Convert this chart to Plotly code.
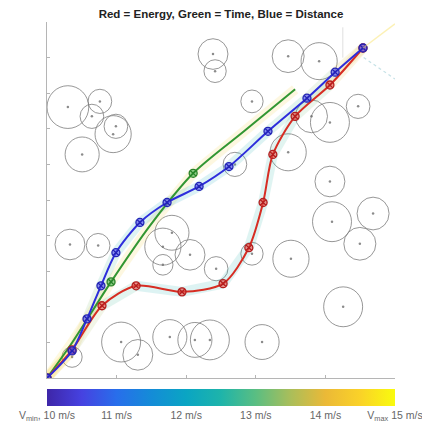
import plotly.graph_objects as go
from plotly.colors import sample_colorscale

# ---------------- data (axis units 0..10) ----------------
circle_x = [4.77, 4.83, 6.93, 7.82, 0.60, 1.52, 1.29, 1.98, 1.90, 1.01, 5.89, 8.94, 7.60, 8.13,
            6.93, 8.13, 5.40, 8.19, 9.37, 8.99, 7.01, 5.89, 4.86, 8.51, 6.18, 0.66, 1.47, 3.59,
            3.33, 4.11, 3.33, 2.13, 2.61, 3.53, 4.25, 4.68, 0.72]
circle_y = [9.10, 8.62, 9.04, 8.90, 7.61, 7.77, 7.35, 7.07, 6.85, 6.28, 7.77, 7.63, 7.35, 7.18,
            6.34, 5.52, 6.00, 4.39, 4.62, 3.77, 3.35, 3.49, 3.07, 2.00, 1.01, 3.75, 3.72, 4.08,
            3.69, 3.46, 3.18, 1.01, 0.65, 1.15, 1.07, 1.07, 0.59]
circle_r = [0.43, 0.32, 0.46, 0.52, 0.60, 0.34, 0.34, 0.34, 0.52, 0.49, 0.32, 0.34, 0.46, 0.56,
            0.52, 0.43, 0.34, 0.56, 0.46, 0.46, 0.52, 0.32, 0.34, 0.56, 0.49, 0.43, 0.34, 0.49,
            0.52, 0.43, 0.29, 0.56, 0.43, 0.49, 0.49, 0.56, 0.29]

blue_x = [0, 0.72, 1.15, 1.55, 1.98, 2.67, 3.45, 4.37, 5.23, 6.35, 7.47, 8.28, 9.08]
blue_y = [0, 0.76, 1.66, 2.59, 3.52, 4.37, 4.93, 5.38, 5.94, 6.93, 7.86, 8.59, 9.27]
blue_speed = [14.6, 14.2, 13.5, 13.0, 12.5, 12.2, 12.0, 12.0, 12.2, 12.5, 13.0, 13.5, 14.2]

red_x = [0, 0.72, 1.58, 2.56, 3.88, 5.06, 5.80, 6.21, 6.49, 7.13, 8.13, 9.08]
red_y = [0, 0.79, 2.03, 2.59, 2.42, 2.65, 3.66, 4.93, 6.28, 7.35, 8.23, 9.27]
red_speed = [14.6, 14.0, 13.0, 12.5, 12.3, 12.4, 12.5, 12.5, 12.6, 12.8, 13.5, 14.5]

green_x = [0, 0.72, 1.84, 2.96, 4.20, 5.66, 7.13]
green_y = [0, 0.99, 2.70, 4.28, 5.75, 6.93, 8.11]
green_speed = [14.6, 14.5, 14.4, 14.4, 14.4, 14.4, 14.4]
green_mark_x = [1.84, 4.20]
green_mark_y = [2.70, 5.75]

speed_ticks = [10, 11, 12, 13, 14, 15]
speed_labels = ["V<sub>min</sub>, 10 m/s", "11 m/s", "12 m/s", "13 m/s", "14 m/s",
                "V<sub>max</sub> 15 m/s"]
title_text = "Red = Energy, Green = Time, Blue = Distance"

parula = [
    [0.0, "rgb(62,38,168)"], [0.1, "rgb(70,66,225)"], [0.2, "rgb(40,110,235)"],
    [0.3, "rgb(20,140,215)"], [0.4, "rgb(10,165,195)"], [0.5, "rgb(30,180,170)"],
    [0.6, "rgb(90,190,130)"], [0.7, "rgb(170,190,90)"], [0.8, "rgb(235,185,55)"],
    [0.9, "rgb(250,210,40)"], [1.0, "rgb(249,251,14)"],
]

FONT = "Arial, Liberation Sans, Helvetica, sans-serif"
fig = go.Figure()

# obstacles
shapes = []
for cx, cy, r in zip(circle_x, circle_y, circle_r):
    shapes.append(dict(type="circle", xref="x", yref="y",
                       x0=cx - r, x1=cx + r, y0=cy - r, y1=cy + r,
                       line=dict(color="rgba(125,125,125,0.8)", width=1),
                       layer="below"))

# faint extra guide lines near goal
shapes.append(dict(type="line", xref="x", yref="y", x0=9.08, y0=9.27, x1=10.0, y1=9.95,
                   line=dict(color="rgba(250,230,120,0.55)", width=1.5)))
shapes.append(dict(type="line", xref="x", yref="y", x0=9.1, y0=9.0, x1=10.0, y1=8.4,
                   line=dict(color="rgba(150,200,210,0.55)", width=1.2, dash="dot")))
shapes.append(dict(type="line", xref="x", yref="y", x0=8.5, y0=9.0, x1=8.5, y1=9.85,
                   line=dict(color="rgba(185,185,185,0.45)", width=1)))

fig.add_trace(go.Scatter(x=circle_x, y=circle_y, mode="markers",
                         marker=dict(size=2.5, color="rgba(110,110,110,0.8)"),
                         hoverinfo="skip", showlegend=False))

# speed glow segments
def glow(xs, ys, sp):
    for i in range(len(xs) - 1):
        v = ((sp[i] + sp[i + 1]) / 2 - 10) / 5
        col = sample_colorscale(parula, [v])[0]
        fig.add_trace(go.Scatter(x=xs[i:i + 2], y=ys[i:i + 2], mode="lines",
                                 line=dict(color=col, width=10), opacity=0.14,
                                 hoverinfo="skip", showlegend=False))

glow(green_x, green_y, green_speed)
glow(red_x, red_y, red_speed)
glow(blue_x, blue_y, blue_speed)

# paths
fig.add_trace(go.Scatter(x=green_x, y=green_y, mode="lines",
                         line=dict(color="rgb(50,150,50)", width=2, shape="spline", smoothing=0.8),
                         showlegend=False))
fig.add_trace(go.Scatter(x=green_mark_x, y=green_mark_y, mode="markers",
                         marker=dict(symbol="circle-x", size=8, color="rgba(80,180,80,0.6)",
                                     line=dict(color="rgb(40,130,40)", width=1.3)),
                         showlegend=False))
fig.add_trace(go.Scatter(x=red_x, y=red_y, mode="lines+markers",
                         line=dict(color="rgb(215,45,35)", width=2, shape="spline", smoothing=0.8),
                         marker=dict(symbol="circle-x", size=8, color="rgba(230,80,70,0.6)",
                                     line=dict(color="rgb(180,30,30)", width=1.3)),
                         showlegend=False))
fig.add_trace(go.Scatter(x=blue_x, y=blue_y, mode="lines+markers",
                         line=dict(color="rgb(45,45,220)", width=2, shape="spline", smoothing=0.8),
                         marker=dict(symbol="circle-x", size=8, color="rgba(80,80,240,0.6)",
                                     line=dict(color="rgb(35,35,180)", width=1.3)),
                         showlegend=False))

# colorbar carrier
fig.add_trace(go.Scatter(x=[0], y=[0], mode="markers",
                         marker=dict(size=0.1, opacity=0, color=[10], cmin=10, cmax=15,
                                     colorscale=parula, showscale=True,
                                     colorbar=dict(orientation="h", x=0.5, xanchor="center",
                                                   y=-0.03, yanchor="top", len=1.0,
                                                   lenmode="fraction", thickness=17,
                                                   thicknessmode="pixels", outlinewidth=0,
                                                   xpad=0, ypad=0,
                                                   tickvals=speed_ticks, ticktext=speed_labels,
                                                   ticks="", ticklabelposition="outside bottom",
                                                   ticklabeloverflow="allow",
                                                   tickfont=dict(family=FONT, size=10.5, color="#666"))),
                         hoverinfo="skip", showlegend=False))

fig.update_layout(
    width=422, height=428,
    margin=dict(l=47, r=27, t=22, b=50, autoexpand=False),
    paper_bgcolor="white", plot_bgcolor="white",
    shapes=shapes,
    title=dict(text="<b>" + title_text + "</b>", x=0.5, xref="paper", xanchor="center",
               y=0.967, yref="container", yanchor="middle",
               font=dict(family=FONT, size=11.5, color="#222")),
    xaxis=dict(range=[0, 10], showgrid=False, zeroline=False, showline=True,
               linecolor="#b5b5b5", linewidth=1, ticks="inside", ticklen=3,
               tickcolor="#b5b5b5", dtick=2, tick0=0, showticklabels=False),
    yaxis=dict(range=[0, 10], showgrid=False, zeroline=False, showline=True,
               linecolor="#b5b5b5", linewidth=1, ticks="inside", ticklen=3,
               tickcolor="#b5b5b5", dtick=1, tick0=0, showticklabels=False),
    showlegend=False,
)

fig.write_html("out.html", config={"displayModeBar": False},
               post_script="document.body.style.margin='0';document.body.style.padding='0';")
